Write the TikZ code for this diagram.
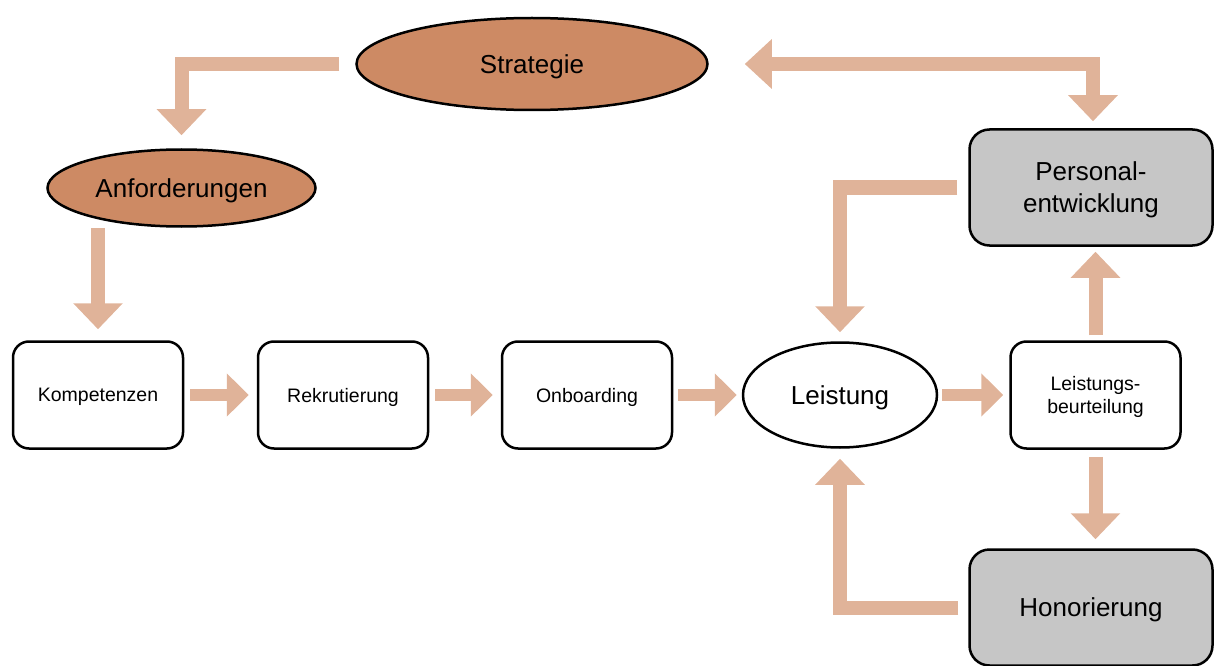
\documentclass[tikz,border=0pt]{standalone}
\usepackage{fontspec}
\setmainfont{Liberation Sans}
\usetikzlibrary{shapes.geometric, arrows.meta}
\definecolor{pfeilfarbe}{HTML}{E0B399}
\definecolor{ovalfarbe}{HTML}{CD8A64}
\definecolor{grau}{HTML}{C6C6C6}

\begin{document}
\begin{tikzpicture}[x=1pt, y=-1pt,
oval/.style={ellipse, draw, line width=2.5pt, inner sep=0pt, text depth=0pt, font=\fontsize{26}{31}\selectfont},
box/.style={rectangle, rounded corners=16pt, draw, line width=2.5pt, minimum width=170pt, minimum height=107pt, text depth=0pt, align=center, font=\fontsize{19.5}{23}\selectfont},
grossbox/.style={box, fill=grau, rounded corners=20pt, minimum width=243pt, minimum height=116pt, font=\fontsize{26}{32}\selectfont},
pfeil/.style={draw=pfeilfarbe, line width=14pt, line join=miter, -{Triangle[width=48pt, length=26pt]}},
kurz/.style={draw=pfeilfarbe, line width=12pt, -{Triangle[width=42pt, length=22pt]}}]
\useasboundingbox (0,0) rectangle (1216,666);
\node [oval, fill=ovalfarbe, minimum width=351pt, minimum height=92pt] (strat) at (532,64) {Strategie};
\node [oval, fill=ovalfarbe, minimum width=268pt, minimum height=77pt] (anf) at (181.5,188) {Anforderungen};
\node [box] (komp) at (98,395) {Kompetenzen};
\node [box] (rek) at (343,395) {Rekrutierung};
\node [box] (onb) at (587,395) {Onboarding};
\node [oval, minimum width=194pt, minimum height=105pt] (leist) at (840,395) {Leistung};
\node [box] (beurt) at (1095.5,395) {Leistungs-\\beurteilung};
\node [grossbox] (entw) at (1091,187.5) {Personal-\\entwicklung};
\node [grossbox] (hon) at (1091,607.5) {Honorierung};
\draw [pfeil, shorten <=16pt, shorten >=13pt] (strat.west) -| (anf.north);
\draw [pfeil, shorten >=11pt] (anf.south -| komp.north) -- (komp.north);
\draw [kurz, shorten <=6pt, shorten >=8pt] (komp) -- (rek);
\draw [kurz, shorten <=6pt, shorten >=8pt] (rek) -- (onb);
\draw [kurz, shorten <=5pt, shorten >=5pt] (onb) -- (leist);
\draw [kurz, shorten <=4pt, shorten >=6pt] (leist) -- (beurt);
\draw [pfeil, {Triangle[width=48pt, length=27pt]}-{Triangle[width=48pt, length=26pt]}, shorten <=36pt, shorten >=7pt] (strat.east) -| ([xshift=2pt]entw.north);
\draw [pfeil, shorten <=11pt, shorten >=9pt] (entw.west) -| (leist.north);
\draw [pfeil, shorten <=10pt, shorten >=10pt] (hon.west) -| (leist.south);
\draw [pfeil, shorten <=5pt, shorten >=5pt] (beurt.north) -- (beurt.north |- entw.south);
\draw [pfeil, shorten <=7pt, shorten >=9pt] (beurt.south) -- (beurt.south |- hon.north);
\end{tikzpicture}
\end{document}
